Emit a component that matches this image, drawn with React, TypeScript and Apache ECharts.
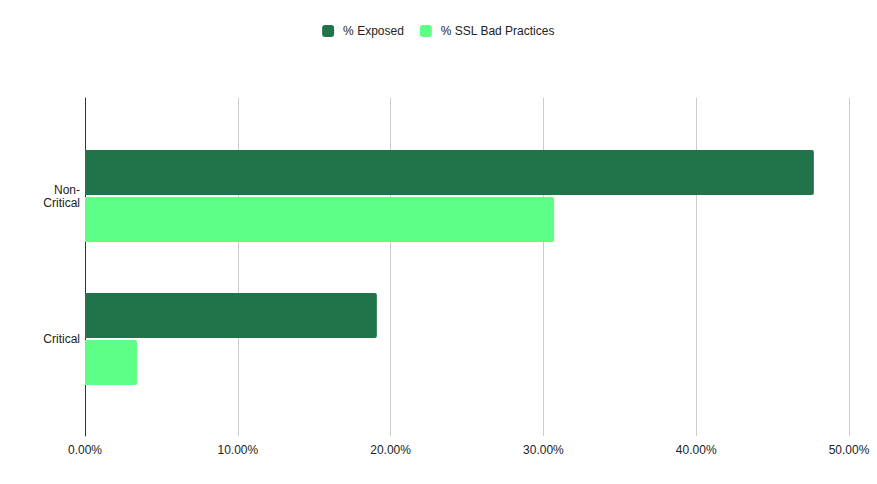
import React, { useEffect, useRef } from "react";
import * as echarts from "echarts";

const categories = ["Non-Critical", "Critical"];
const seriesNames = ["% Exposed", "% SSL Bad Practices"];
const exposed = [47.7, 19.1];
const sslBad = [30.7, 3.4];
const xTicks = { min: 0, max: 50, interval: 10 };

const FONT = "'Liberation Sans', Arial, sans-serif";

export default function App() {
  const ref = useRef<HTMLDivElement>(null);
  useEffect(() => {
    document.body.style.margin = "0";
    const chart = echarts.init(ref.current!, null, { renderer: "svg" });
    chart.setOption({
      animation: false,
      backgroundColor: "#ffffff",
      textStyle: { fontFamily: FONT },
      legend: {
        data: seriesNames,
        top: 20,
        left: "center",
        icon: "roundRect",
        itemWidth: 12,
        itemHeight: 12,
        itemGap: 16,
        textStyle: { fontSize: 12, color: "#222", fontFamily: FONT, padding: [0, 0, 0, 4] },
      },
      grid: [
        { left: 85, right: 28, top: 98, height: 338 },
        { left: 85, right: 28, top: 124.5, height: 286 },
      ],
      xAxis: [
        {
          gridIndex: 0,
          type: "value",
          min: xTicks.min,
          max: xTicks.max,
          interval: xTicks.interval,
          axisLine: { show: false },
          axisTick: { show: false },
          splitLine: { show: true, lineStyle: { color: "#cccccc", width: 1 } },
          axisLabel: {
            color: "#222",
            fontSize: 12,
            fontFamily: FONT,
            margin: 8,
            formatter: (v: number) => v.toFixed(2) + "%",
          },
        },
        {
          gridIndex: 1,
          type: "value",
          min: xTicks.min,
          max: xTicks.max,
          interval: xTicks.interval,
          show: false,
        },
      ],
      yAxis: [
        {
          gridIndex: 0,
          type: "category",
          data: [""],
          axisLine: { show: true, lineStyle: { color: "#333333", width: 1 } },
          axisTick: { show: false },
          axisLabel: { show: false },
          splitLine: { show: false },
        },
        {
          gridIndex: 1,
          type: "category",
          data: categories,
          inverse: true,
          axisLine: { show: false },
          axisTick: { show: false },
          axisLabel: {
            color: "#222",
            fontSize: 12,
            fontFamily: FONT,
            margin: 5,
            align: "right",
            lineHeight: 13,
            formatter: (v: string) => v.replace("-", "-\n"),
          },
        },
      ],
      series: [
        {
          name: seriesNames[0],
          type: "bar",
          xAxisIndex: 1,
          yAxisIndex: 1,
          data: exposed,
          barWidth: 45,
          barGap: "4%",
          itemStyle: { color: "#21744a", borderRadius: [0, 2, 2, 0] },
        },
        {
          name: seriesNames[1],
          type: "bar",
          xAxisIndex: 1,
          yAxisIndex: 1,
          data: sslBad,
          barWidth: 45,
          barGap: "4%",
          itemStyle: { color: "#5dff87", borderRadius: [0, 2, 2, 0] },
        },
      ],
    });
    return () => chart.dispose();
  }, []);
  return <div ref={ref} style={{ width: 877, height: 484 }} />;
}
